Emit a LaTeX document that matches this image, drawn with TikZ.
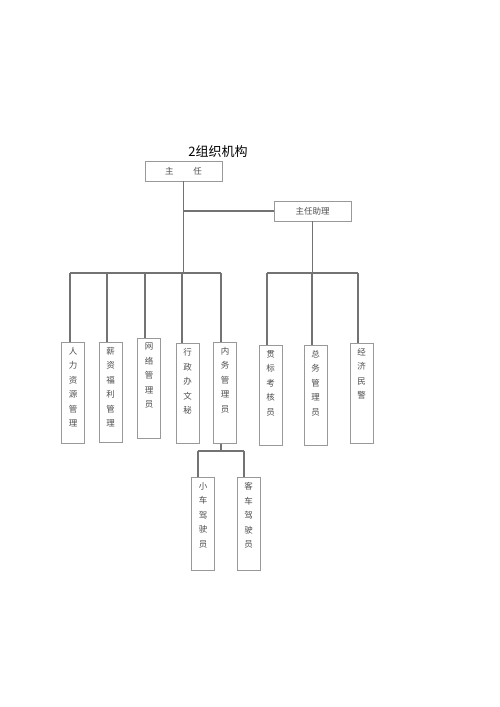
\documentclass[tikz,border=0pt]{standalone}
\usepackage{fontspec}
\newfontfamily\cjk{Noto Sans CJK SC}
\usetikzlibrary{positioning}
\tikzset{
  box/.style={draw=black!40, line width=0.7pt, text=black!70, inner sep=0pt,
    font=\cjk\fontsize{8.5}{14.5}\selectfont},
  head/.style={box, minimum width=77pt, minimum height=20pt},
  post/.style={box, anchor=north, minimum width=23pt, inner ysep=5pt},
  wire/.style={draw=black!55, line width=1.3pt}
}
\newcommand{\vtxt}[2]{\parbox[c][#1][t]{12pt}{\centering #2}}

\begin{document}
\begin{tikzpicture}[x=1pt,y=-1pt]
\useasboundingbox (0,0) rectangle (500,707);
% title and heads
\node[font=\cjk\fontsize{13}{13}\selectfont] (title) at (218,152) {2组织机构};
\node[head] (zr) at (183.5,171) {主\hspace{20pt}任};
\node[head] (zl) at (312.5,211) {主任助理};
% left group
\node[post] (rl) at (73,342) {\vtxt{91pt}{人\\力\\资\\源\\管\\理}};
\node[post] (xz) at (110.5,342) {\vtxt{90pt}{薪\\资\\福\\利\\管\\理}};
\node[post] (wl) at (149,338) {\vtxt{90pt}{网\\络\\管\\理\\员}};
\node[post] (xw) at (187.5,343) {\vtxt{90pt}{行\\政\\办\\文\\秘}};
\node[post] (nw) at (225,342) {\vtxt{91pt}{内\\务\\管\\理\\员}};
% right group
\node[post] (gb) at (270.5,345) {\vtxt{90pt}{贯\\标\\考\\核\\员}};
\node[post] (zw) at (315.5,345) {\vtxt{90pt}{总\\务\\管\\理\\员}};
\node[post] (jj) at (361.5,343) {\vtxt{90pt}{经\\济\\民\\警}};
% drivers
\node[post] (xc) at (203,477) {\vtxt{83pt}{小\\车\\驾\\驶\\员}};
\node[post] (kc) at (248.5,477) {\vtxt{83pt}{客\\车\\驾\\驶\\员}};
% bus points
\coordinate (b1) at (70,273);
\coordinate (b2) at (107,273);
\coordinate (b3) at (145,273);
\coordinate (b4) at (182,273);
\coordinate (b5) at (221,273);
\coordinate (b6) at (267,273);
\coordinate (b7) at (312,273);
\coordinate (b8) at (358,273);
\coordinate (c0) at (221,451);
\coordinate (c1) at (198,451);
\coordinate (c2) at (244,451);
% connectors
\draw[wire] (zr.south) -- (zr.south |- b1);
\draw[wire] (zr.south |- zl.west) -- (zl.west);
\draw[wire] (zl.south) -- (zl.south |- b6);
\draw[wire] (b1) -- (b5);
\draw[wire] (b6) -- (b8);
\foreach \b/\n in {b1/rl,b2/xz,b3/wl,b4/xw,b5/nw,b6/gb,b7/zw,b8/jj}
  \draw[wire] (\b) -- (\b |- \n.north);
\draw[wire] (c0 |- nw.south) -- (c0);
\draw[wire] (c1) -- (c2);
\draw[wire] (c1) -- (c1 |- xc.north);
\draw[wire] (c2) -- (c2 |- kc.north);
\end{tikzpicture}
\end{document}
